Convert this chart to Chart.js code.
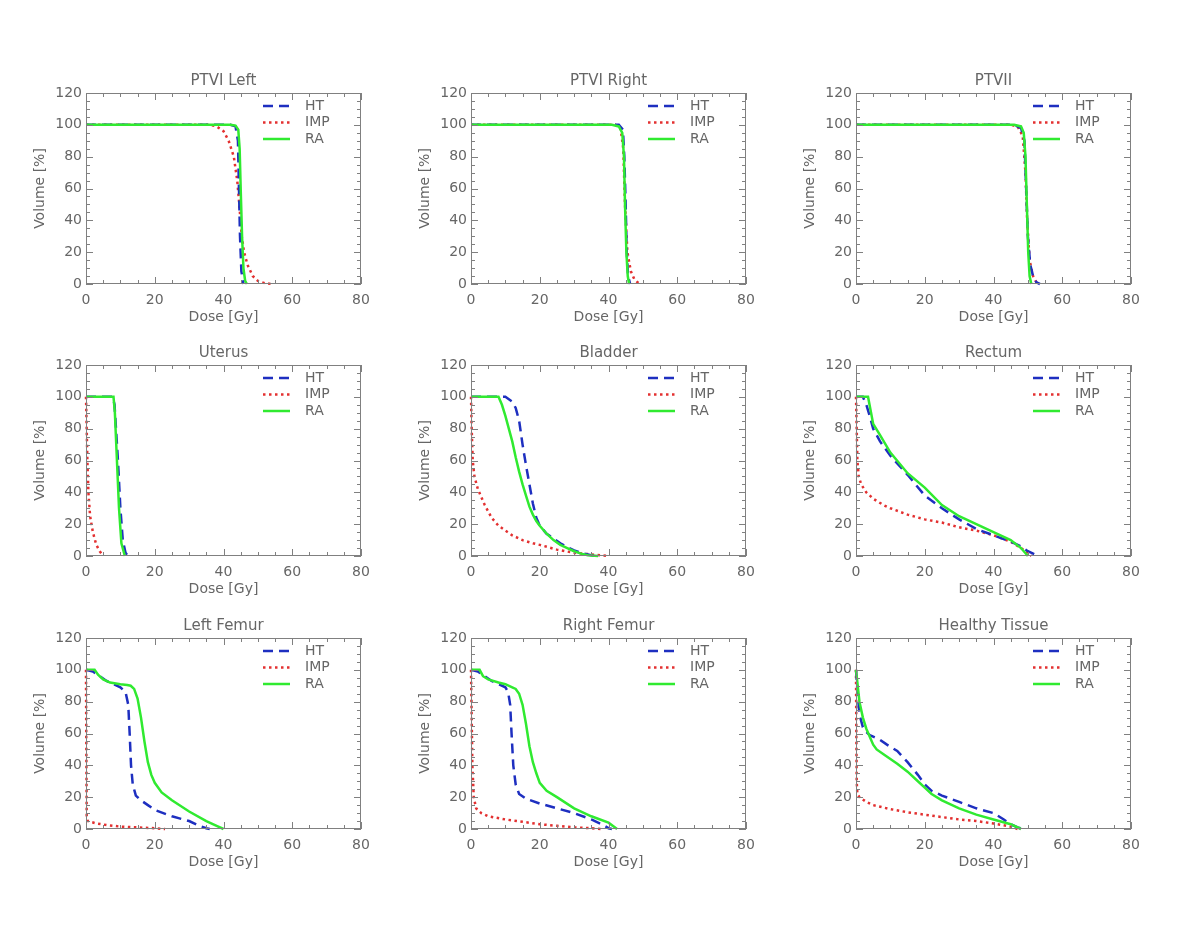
<!DOCTYPE html>
<html>
<head>
<meta charset="utf-8">
<script src="https://cdn.jsdelivr.net/npm/chart.js@4.4.1/dist/chart.umd.min.js"></script>
<style>
  html, body { margin: 0; padding: 0; background: #fff; }
  body { width: 1200px; height: 927px; position: relative; overflow: hidden; }
  canvas.panel { position: absolute; }
</style>
</head>
<body>
<script>
// --- data (dose [Gy], volume [%]) ---
const seriesNames = ['HT', 'IMP', 'RA'];
const panelTitles = ['PTVI Left', 'PTVI Right', 'PTVII', 'Uterus', 'Bladder', 'Rectum',
                     'Left Femur', 'Right Femur', 'Healthy Tissue'];
const xTickLabels = ['0', '20', '40', '60', '80'];
const yTickLabels = ['0', '20', '40', '60', '80', '100', '120'];

const ptvLeftHT  = [[0,100],[42,100],[43.5,99],[44.2,90],[44.5,60],[44.8,30],[45.2,8],[45.8,0]];
const ptvLeftIMP = [[0,100],[36,100],[38,99],[40,96],[41.5,90],[43,80],[44,65],[44.6,50],[45.3,30],[46,20],[47,12],[48.5,5],[50,2],[52,0.5],[54,0]];
const ptvLeftRA  = [[0,100],[42,100],[43.5,99.5],[44.3,97],[44.7,85],[45,60],[45.4,30],[45.8,10],[46.3,2],[46.8,0]];

const ptvRightHT  = [[0,100],[43,100],[44.2,97],[44.6,80],[45,50],[45.3,20],[45.7,5],[46.3,0]];
const ptvRightIMP = [[0,100],[42,100],[43.5,98],[44.3,85],[44.8,50],[45.5,20],[46.5,8],[47.5,3],[49,0]];
const ptvRightRA  = [[0,100],[41,100],[43,99],[44,95],[44.5,80],[44.8,50],[45.2,20],[45.6,5],[46,0]];

const ptv2HT  = [[0,100],[46,100],[48,98],[49,90],[49.5,60],[50,30],[50.7,12],[51.5,5],[52.5,1],[53.5,0]];
const ptv2IMP = [[0,100],[45,100],[47,99],[48.5,93],[49.3,70],[49.8,40],[50.5,15],[51.5,5],[52.5,1],[53,0]];
const ptv2RA  = [[0,100],[46,100],[48,99],[48.8,95],[49.3,80],[49.7,50],[50.1,20],[50.5,5],[51,0]];

const uterusHT  = [[0,100],[7.8,100],[8.3,95],[9.3,60],[10,30],[10.7,10],[11.5,2],[12,0.5],[13,0]];
const uterusIMP = [[0,100],[0.2,80],[0.4,60],[0.7,40],[1.2,25],[2,15],[3,7],[4,3],[5,0]];
const uterusRA  = [[0,100],[8,100],[8.4,90],[9,60],[9.6,30],[10.3,8],[11.3,0]];

const bladderHT  = [[0,100],[10,100],[12,97],[13,93],[14,85],[15,70],[16,57],[17,45],[18,33],[19,24],[20,19],[22,14],[24,11],[26,8],[28,5.5],[30,3.5],[32,2],[34,1],[36,0]];
const bladderIMP = [[0,100],[0.2,80],[0.5,60],[1,50],[2,42],[3,37],[4,32],[6,24],[8,19],[10,16],[12,13],[15,10],[18,8],[20,7],[25,4],[30,2],[35,1],[40,0]];
const bladderRA  = [[0,100],[8,100],[9,95],[10,88],[11,80],[12,72],[13,62],[14,53],[15,45],[16,38],[17,31],[18,26],[19,22],[20,19],[22,14],[24,10],[26,7],[28,5],[30,3],[32,1.5],[34,0.5],[37,0]];

const rectumHT  = [[0,100],[2,100],[3,95],[4,88],[5,80],[7,72],[10,63],[15,51],[20,38],[25,30],[30,23],[35,17],[40,13],[45,9],[48,6],[50,3],[52,1],[53,0]];
const rectumIMP = [[0,100],[0.2,80],[0.4,60],[0.8,50],[1.5,45],[3,40],[5,36],[8,32],[10,30],[15,26],[20,23],[25,21],[30,18],[35,16],[40,13],[45,9],[48,5],[50,2],[51,0]];
const rectumRA  = [[0,100],[3.5,100],[4.2,92],[5,83],[7,76],[10,65],[15,52],[20,43],[25,32],[30,25],[35,20],[40,15],[45,10],[48,5],[50,0]];

const lFemurHT  = [[0,100],[2,99],[4,96],[6,93],[8,91],[10,89],[11.5,86],[12.3,78],[12.7,60],[13.1,40],[13.6,28],[14.5,21],[16,18],[18,15],[20,12],[25,8],[30,5],[33,2],[35,0.5],[36,0]];
const lFemurIMP = [[0,100],[0.1,50],[0.2,8],[0.5,5],[3,3.5],[6,2.5],[10,1.5],[15,1],[20,0.5],[23,0]];
const lFemurRA  = [[0,100],[2.5,100],[3.5,97],[5,94],[7,92],[10,91],[12,90.5],[13,90],[14,88],[15,82],[16,70],[17,55],[18,42],[19,34],[20,29],[22,23],[25,18],[30,11],[35,5],[38,2],[40,0]];

const rFemurHT  = [[0,100],[2,99],[4,96],[6,93],[8,91],[10,89],[10.8,86],[11.4,78],[11.8,60],[12.3,40],[13,28],[14,22],[16,19],[20,16],[25,13],[30,10],[35,6],[38,3],[40,0.5],[41,0]];
const rFemurIMP = [[0,100],[0.2,70],[0.4,40],[0.8,20],[1.5,13],[3,10],[5,8],[10,6],[15,4.5],[20,3],[25,2],[30,1],[35,0.5],[38,0]];
const rFemurRA  = [[0,100],[2.5,100],[3.5,96],[5,94],[8,92],[10,91],[12,89],[13,88],[14,85],[15,78],[16,66],[17,52],[18,42],[19,35],[20,29],[22,24],[25,20],[30,13],[35,8],[40,4],[42.5,0]];

const healthyHT  = [[0,100],[0.5,85],[1,72],[2,64],[3,61],[4,59],[5,58],[7,56],[9,53],[12,49],[15,42],[18,34],[20,28],[22,24],[25,21],[30,17],[35,13],[40,10],[43,6],[45,3],[47,1],[48.5,0]];
const healthyIMP = [[0,100],[0.1,60],[0.2,30],[0.4,22],[1,20],[3,17],[5,15],[10,12.5],[15,10.5],[20,9],[25,7.5],[30,6],[35,5],[40,3.5],[45,1.5],[47,0]];
const healthyRA  = [[0,100],[0.5,90],[1,80],[2,70],[3,63],[4,58],[5,53],[6,50],[8,47],[10,44],[12,41],[15,36],[18,30],[20,26],[22,22],[25,18],[30,13],[35,9],[40,6],[45,3],[48,0]];

const panelData = [
  [ptvLeftHT, ptvLeftIMP, ptvLeftRA],
  [ptvRightHT, ptvRightIMP, ptvRightRA],
  [ptv2HT, ptv2IMP, ptv2RA],
  [uterusHT, uterusIMP, uterusRA],
  [bladderHT, bladderIMP, bladderRA],
  [rectumHT, rectumIMP, rectumRA],
  [lFemurHT, lFemurIMP, lFemurRA],
  [rFemurHT, rFemurIMP, rFemurRA],
  [healthyHT, healthyIMP, healthyRA]
];

// --- styling ---
const textColor = '#666';
const fontFamily = '"DejaVu Sans", sans-serif';
const lineStyles = [
  { color: '#1e2fc0', dash: [10, 6], width: 2.5, order: 1 },
  { color: '#e33030', dash: [2.5, 3.5], width: 2.5, order: 2 },
  { color: '#30ea30', dash: [], width: 2.5, order: 0 }
];
const colLeft = [86, 471, 856];
const rowTop = [93, 365, 638];
const margin = 70; // same on both sides so the chart title centres over the plot

// frame with inward major/minor ticks on all four sides
const frameTicks = {
  id: 'frameTicks',
  afterDraw(chart) {
    const { ctx, chartArea: a, scales: { x, y } } = chart;
    ctx.save();
    ctx.strokeStyle = '#808080';
    ctx.lineWidth = 1;
    ctx.strokeRect(a.left + 0.5, a.top + 0.5, a.right - a.left - 1, a.bottom - a.top - 1);
    ctx.beginPath();
    for (let v = x.min; v <= x.max; v += 5) {
      const px = Math.round(x.getPixelForValue(v)) + 0.5;
      const len = v % 20 === 0 ? 7 : 4;
      ctx.moveTo(px, a.bottom); ctx.lineTo(px, a.bottom - len);
      ctx.moveTo(px, a.top); ctx.lineTo(px, a.top + len);
    }
    for (let v = y.min; v <= y.max; v += 5) {
      const py = Math.round(y.getPixelForValue(v)) + 0.5;
      const len = v % 20 === 0 ? 7 : 4;
      ctx.moveTo(a.left, py); ctx.lineTo(a.left + len, py);
      ctx.moveTo(a.right, py); ctx.lineTo(a.right - len, py);
    }
    ctx.stroke();
    ctx.restore();
  }
};

// legend drawn inside the plot, top right
const insideLegend = {
  id: 'insideLegend',
  afterDatasetsDraw(chart) {
    const { ctx, chartArea: a } = chart;
    chart.data.datasets.forEach((ds, i) => {
      const yy = a.top + 13 + i * 16.5;
      ctx.save();
      ctx.strokeStyle = ds.borderColor;
      ctx.lineWidth = ds.borderWidth;
      ctx.setLineDash(ds.borderDash);
      ctx.beginPath();
      ctx.moveTo(a.right - 98, yy);
      ctx.lineTo(a.right - 71, yy);
      ctx.stroke();
      ctx.setLineDash([]);
      ctx.fillStyle = textColor;
      ctx.font = '14px ' + fontFamily;
      ctx.textBaseline = 'middle';
      ctx.fillText(ds.label, a.right - 56, yy);
      ctx.restore();
    });
  }
};

panelData.forEach((series, p) => {
  const col = p % 3, row = Math.floor(p / 3);
  const canvas = document.createElement('canvas');
  canvas.className = 'panel';
  canvas.width = 275 + 2 * margin;
  canvas.height = 271;
  canvas.style.left = (colLeft[col] - margin) + 'px';
  canvas.style.top = (rowTop[row] - 30) + 'px';
  document.body.appendChild(canvas);

  new Chart(canvas, {
    type: 'line',
    data: {
      datasets: series.map((pts, i) => ({
        label: seriesNames[i],
        data: pts.map(([d, v]) => ({ x: d, y: v })),
        borderColor: lineStyles[i].color,
        borderDash: lineStyles[i].dash,
        borderWidth: lineStyles[i].width,
        order: lineStyles[i].order,
        pointRadius: 0,
        tension: 0,
        fill: false,
        clip: false
      }))
    },
    options: {
      responsive: false,
      animation: false,
      devicePixelRatio: 1,
      layout: { padding: 0 },
      plugins: {
        legend: { display: false },
        tooltip: { enabled: false },
        title: {
          display: true,
          text: panelTitles[p],
          color: textColor,
          font: { family: fontFamily, size: 15, weight: 'normal' },
          padding: { top: 9, bottom: 3 }
        }
      },
      scales: {
        x: {
          type: 'linear', min: 0, max: 80,
          afterFit(s) { s.height = 50; },
          grid: { display: false, drawTicks: false },
          border: { display: false },
          ticks: {
            stepSize: 20, padding: 8, maxRotation: 0,
            color: textColor, font: { family: fontFamily, size: 14 },
            callback: v => xTickLabels[v / 20]
          },
          title: {
            display: true, text: 'Dose [Gy]', color: textColor,
            font: { family: fontFamily, size: 14 }, padding: { top: 0, bottom: 8.6 }
          }
        },
        y: {
          type: 'linear', min: 0, max: 120,
          afterFit(s) { s.width = margin; },
          grid: { display: false, drawTicks: false },
          border: { display: false },
          ticks: {
            stepSize: 20, padding: 4,
            color: textColor, font: { family: fontFamily, size: 14 },
            callback: v => yTickLabels[v / 20]
          },
          title: {
            display: true, text: 'Volume [%]', color: textColor,
            font: { family: fontFamily, size: 14 }, padding: { top: 15.6, bottom: 0 }
          }
        },
        // empty right-hand axis: only reserves space to balance the left one
        yRight: {
          type: 'linear', position: 'right', min: 0, max: 120,
          afterFit(s) { s.width = margin; },
          grid: { display: false, drawTicks: false },
          border: { display: false },
          ticks: { display: false }
        }
      }
    },
    plugins: [frameTicks, insideLegend]
  });
});
</script>
</body>
</html>
